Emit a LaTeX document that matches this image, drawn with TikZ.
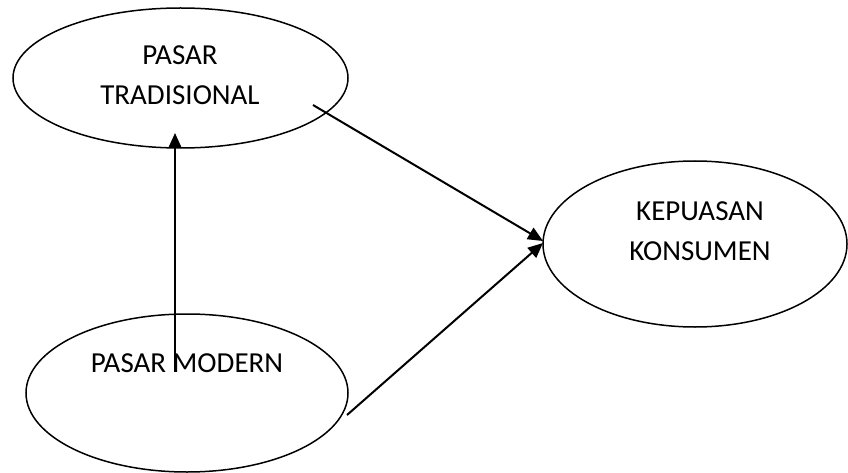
\documentclass[tikz,border=0pt]{standalone}
\usepackage{fontspec}
\setmainfont{Carlito}
\usetikzlibrary{shapes.geometric,arrows.meta}
\begin{document}
\begin{tikzpicture}[x=1pt,y=-1pt,
  oval/.style={draw=black,ellipse,line width=1.5pt,inner sep=0pt},
  lbl/.style={anchor=base,font=\fontsize{29}{29}\selectfont,inner sep=0pt},
  link/.style={line width=2pt,-{Triangle[length=15pt,width=13pt]}}]
  \useasboundingbox (0,0) rectangle (848,473);

  % ovals
  \node[oval,minimum width=335pt,minimum height=140pt] (trad) at (180.5,78) {};
  \node[oval,minimum width=304pt,minimum height=166pt] (kep) at (695,244) {};
  \node[oval,minimum width=322pt,minimum height=158pt] (mod) at (187,393) {};

  % labels
  \node[lbl] (tradA) at (180,65) {PASAR};
  \node[lbl] (tradB) at (180,105) {TRADISIONAL};
  \node[lbl] (kepA) at (700,220) {KEPUASAN};
  \node[lbl] (kepB) at (700,260) {KONSUMEN};
  \node[lbl] (modA) at (187,372) {PASAR MODERN};

  % connector end points
  \coordinate (vS) at (175,372);
  \coordinate (vE) at (175,133);
  \coordinate (aS) at (313,105);
  \coordinate (aE) at (543,241);
  \coordinate (bS) at (347,415);
  \coordinate (bE) at (543,243);

  \draw[link] (vS) -- (vE);
  \draw[link] (aS) -- (aE);
  \draw[link] (bS) -- (bE);
\end{tikzpicture}
\end{document}
